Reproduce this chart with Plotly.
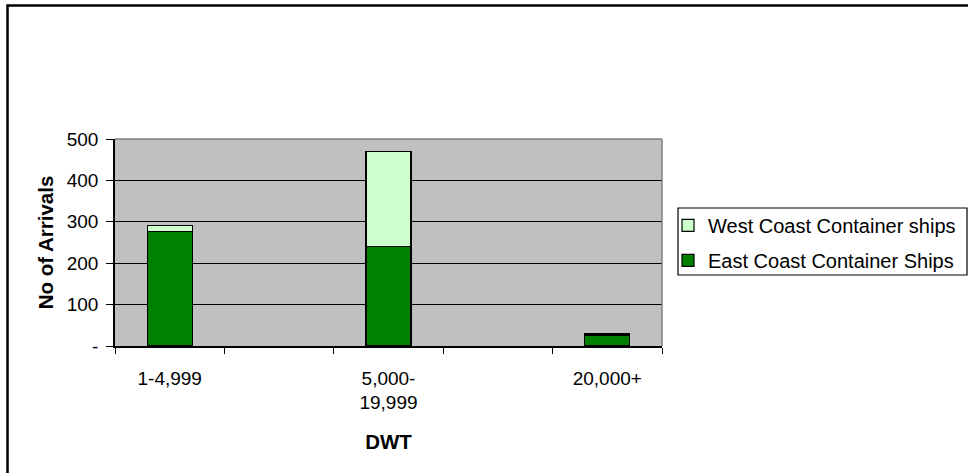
import plotly.graph_objects as go

categories = ["1-4,999", "", "5,000-<br>19,999", "", "20,000+"]
east_coast = [276, None, 241, None, 25]
west_coast = [16, None, 228, None, 4]
y_ticks = [0, 100, 200, 300, 400, 500]
y_tick_labels = ["-", "100", "200", "300", "400", "500"]

FONT = "Liberation Sans, Arial, sans-serif"
xpos = list(range(len(categories)))

fig = go.Figure()
fig.add_trace(go.Bar(
    x=xpos, y=east_coast, name="East Coast Container Ships",
    marker=dict(color="#008000", line=dict(color="black", width=1.2)),
    legendgroup="east", legendrank=2,
))
fig.add_trace(go.Bar(
    x=xpos, y=west_coast, name="West Coast Container ships",
    marker=dict(color="#CCFFCC", line=dict(color="black", width=1.2)),
    legendgroup="west", legendrank=1,
))

label_idx = [i for i, c in enumerate(categories) if c]

fig.update_layout(
    width=968, height=473,
    barmode="stack", bargap=0.59,
    plot_bgcolor="#C0C0C0", paper_bgcolor="white",
    margin=dict(l=115, r=306, t=139, b=127, autoexpand=False),
    font=dict(family=FONT, size=19, color="black"),
    showlegend=True,
    legend=dict(
        x=1.011, y=0.677, xanchor="left", yanchor="top",
        borderwidth=0, bgcolor="rgba(0,0,0,0)",
        traceorder="grouped", tracegroupgap=6,
        font=dict(family=FONT, size=20),
    ),
    xaxis=dict(
        range=[-0.5, len(categories) - 0.5],
        tickmode="array", tickvals=[xpos[i] for i in label_idx],
        ticktext=[categories[i] for i in label_idx],
        ticks="", ticklabelstandoff=14,
        showline=True, linecolor="black", linewidth=1.5,
        showgrid=False, zeroline=False,
        minor=dict(tickmode="array",
                   tickvals=[i - 0.5 for i in range(len(categories) + 1)],
                   ticks="outside", ticklen=6, tickcolor="black", tickwidth=1.2,
                   showgrid=False),
        title=dict(text="<b>DWT</b>", font=dict(size=20.5), standoff=22),
    ),
    yaxis=dict(
        range=[0, 500], tickmode="array", tickvals=y_ticks, ticktext=y_tick_labels,
        ticks="outside", ticklen=7, tickcolor="black", tickwidth=1.2,
        showline=True, linecolor="black", linewidth=1.5,
        showgrid=True, gridcolor="black", gridwidth=1.2,
        zeroline=False, ticklabelstandoff=4,
        title=dict(text="<b>No of Arrivals</b>", font=dict(size=20.5), standoff=8),
    ),
    shapes=[
        dict(type="line", xref="paper", yref="paper", x0=0, x1=1, y0=1, y1=1,
             line=dict(color="#808080", width=1.5)),
        dict(type="line", xref="paper", yref="paper", x0=1, x1=1, y0=0, y1=1,
             line=dict(color="#808080", width=1.5)),
        # legend frame
        dict(type="rect", xref="paper", yref="paper",
             x0=1.0293, x1=1.5576, y0=0.343, y1=0.6667,
             line=dict(color="black", width=1.2), fillcolor="white", layer="below"),
        # outer chart border
        dict(type="rect", xref="paper", yref="paper",
             x0=-0.1965, x1=2.0, y0=-1.0, y1=1.645,
             line=dict(color="black", width=2.5), fillcolor="rgba(0,0,0,0)", layer="above"),
    ],
)

fig.write_html("out.html", config={"displayModeBar": False},
               post_script="document.body.style.margin='0';")
